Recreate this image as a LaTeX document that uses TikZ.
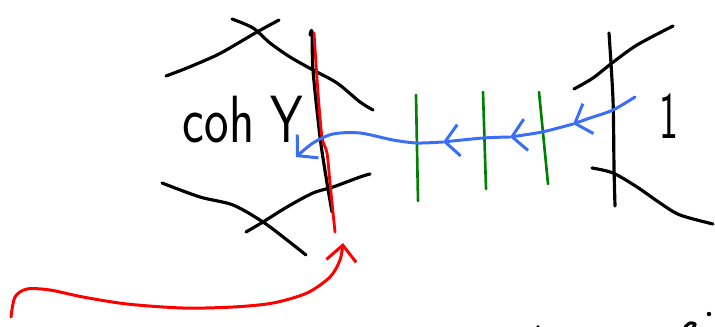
\documentclass[tikz,border=0pt]{standalone}
\usepackage{xcolor}
\usepackage{tikz}
\usetikzlibrary{arrows.meta, calc}
\definecolor{inkblack}{RGB}{0, 0, 0}
\definecolor{inkblue}{RGB}{59, 110, 246}
\definecolor{inkgreen}{RGB}{0, 128, 0}
\definecolor{inkred}{RGB}{255, 0, 0}

\begin{document}
\begin{tikzpicture}[x=0.02cm, y=-0.02cm,
    stroke/.style={line width=1.8pt, line cap=round, line join=round, inkblack},
    wall/.style={line width=1.5pt, line cap=round, inkgreen},
    flow/.style={line width=1.7pt, line cap=round, line join=round, inkblue,
        -{Straight Barb[length=8pt, width=18pt, line width=1.7pt]}},
    lift/.style={line width=1.7pt, line cap=round, line join=round, inkred,
        -{Straight Barb[length=9pt, width=17pt, line width=1.7pt]}},
    label/.style={font=\sffamily\fontsize{38}{38}\selectfont, inner sep=0pt}]
    \useasboundingbox (0,0) rectangle (715,327);

    % Left brane: coh Y
    \draw[stroke] plot[smooth] coordinates {(166,76) (187,68) (217,55) (240,42) (257,32) (279,20)};
    \draw[stroke] plot[smooth] coordinates {(232,19) (253,28) (270,43) (290,57) (313,70) (337,83) (360,102) (373,110)};
    \draw[stroke] plot[smooth] coordinates {(162,183) (200,197) (233,205) (263,222) (287,240) (306,255)};
    \draw[stroke] plot[smooth] coordinates {(246,232) (263,222) (287,207) (313,193) (333,187) (360,177) (370,174)};
    \draw[stroke] plot[smooth] coordinates {(310,35) (312,32) (313,70) (320,137) (327,183) (332,212)};
    \draw[line width=1.6pt, line cap=round, inkred] plot[smooth] coordinates {(314,33) (318,93) (322,137) (327,153) (330,183) (335,232)};
    \node[label, anchor=base] (cohY) at (243,143) {\scalebox{0.78}[1]{coh Y}};

    % Right brane: 1
    \draw[stroke] plot[smooth] coordinates {(609,33) (613,100) (614,167) (615,206)};
    \draw[stroke] plot[smooth] coordinates {(574,89) (593,78) (612,63) (637,45) (673,26)};
    \draw[stroke] plot[smooth] coordinates {(592,168) (613,173) (637,187) (660,203) (680,215) (713,224)};
    \node[label] (one) at (669,116) {\scalebox{0.6}[1]{1}};

    % Green walls
    \draw[wall] (416,95) -- (418,201);
    \draw[wall] (483,92) -- (486,189);
    \draw[wall] (539,92) -- (548,184);

    % Blue flow, right to left
    \coordinate (b0) at (635,97);
    \coordinate (b1) at (573,124);
    \coordinate (b2) at (510,137);
    \coordinate (b3) at (443,142);
    \coordinate (b4) at (296,157);
    \draw[flow] plot[smooth] coordinates {(b0) (613,110) (590,118) (b1)};
    \draw[flow] plot[smooth] coordinates {(b1) (542,132) (b2)};
    \draw[flow] plot[smooth] coordinates {(b2) (483,138) (b3)};
    \draw[flow] plot[smooth] coordinates {(b3) (417,143) (393,140) (360,133) (333,134) (313,143) (b4)};

    % Red lift from below
    \coordinate (r0) at (11,317);
    \coordinate (r1) at (343,243);
    \draw[lift] plot[smooth] coordinates {(r0) (15,297) (27,289) (50,290) (83,297) (127,304) (183,308) (233,307) (273,303) (307,293) (330,277) (340,260) (r1)};

    % Cut-off strokes at the edges
    \draw[stroke] (5,-1.2) -- (45,-1.2);
    \draw[stroke] (91,-1.2) -- (94,-1.2);
    \draw[stroke] (121,-1.2) -- (136,-1.2);
    \draw[stroke] plot[smooth] coordinates {(685,327) (690,323) (695,324) (693,328)};
    \fill[inkblack] (709,314) circle (2.2);
    \fill[inkblack] (538,327) circle (1.8);
\end{tikzpicture}
\end{document}
